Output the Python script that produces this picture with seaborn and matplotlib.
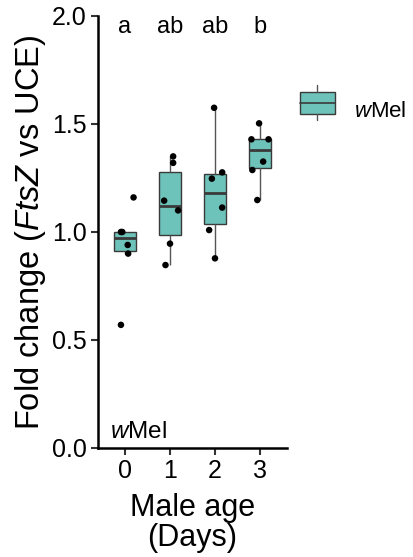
import matplotlib
matplotlib.use("Agg")
import matplotlib.pyplot as plt
import matplotlib.patches as mpatches
import matplotlib.lines as mlines
from matplotlib.legend_handler import HandlerBase
import pandas as pd
import seaborn as sns

# data (fold change per male, per age in days)
ages = [0, 1, 2, 3]
day0 = [1.16, 1.00, 1.00, 0.94, 0.90, 0.57]
day1 = [1.35, 1.32, 1.145, 1.10, 0.946, 0.847]
day2 = [1.575, 1.276, 1.247, 1.113, 1.009, 0.878]
day3 = [1.503, 1.429, 1.429, 1.326, 1.287, 1.148]
# horizontal jitter of each dot, as seen in the picture
jit0 = [0.19, -0.09, -0.06, 0.06, 0.07, -0.09]
jit1 = [0.07, 0.07, -0.13, 0.18, 0.0, -0.10]
jit2 = [-0.02, 0.16, -0.07, 0.16, -0.13, 0.0]
jit3 = [-0.02, -0.19, 0.19, 0.07, -0.17, -0.06]
letters = ["a", "ab", "ab", "b"]

teal = "#6DC2B9"
edge = "#3a3a3a"

rows = []
for age, vals, jits in zip(ages, [day0, day1, day2, day3], [jit0, jit1, jit2, jit3]):
    for v, j in zip(vals, jits):
        rows.append({"age": age, "fold": v, "xj": age + j})
df = pd.DataFrame(rows)

sns.set_style("ticks")
plt.rcParams["font.family"] = ["Liberation Sans", "DejaVu Sans"]
plt.rcParams["mathtext.fontset"] = "custom"
plt.rcParams["mathtext.rm"] = "Liberation Sans"
plt.rcParams["mathtext.it"] = "Liberation Sans:italic"
plt.rcParams["text.color"] = "black"
plt.rcParams["axes.labelcolor"] = "black"

fig = plt.figure(figsize=(4.13, 5.57), dpi=100)
ax = fig.add_axes([0.2373, 0.1957, 0.4576, 0.7756])

sns.boxplot(data=df, x="age", y="fold", order=ages, color=teal, width=0.5,
            showfliers=False, saturation=1, linewidth=1, linecolor=edge,
            whis=1.5, medianprops={"linewidth": 2, "color": edge},
            whiskerprops={"color": "#555555"}, capprops={"linewidth": 0},
            ax=ax)
sns.scatterplot(data=df, x="xj", y="fold", color="black", s=22,
                edgecolor="none", ax=ax, zorder=5)

for i, lab in enumerate(letters):
    ax.text(ages[i], 1.95, lab, ha="center", va="center", fontsize=17)

ax.text(0.063, 0.012, r"$\mathit{w}$Mel", transform=ax.transAxes,
        fontsize=17.5, ha="left", va="bottom")

ax.set_xlim(-0.6, 3.6)
ax.set_ylim(0, 2.0)
ax.set_yticks([0, 0.5, 1.0, 1.5, 2.0])
ax.set_yticklabels(["0.0", "0.5", "1.0", "1.5", "2.0"])
ax.set_xticks(ages)
ax.set_xticklabels([str(a) for a in ages])
ax.tick_params(labelsize=18, width=1.5, length=5, color="#333333",
               labelcolor="black", pad=3)
ax.set_xlabel("Male age\n(Days)", fontsize=22, linespacing=1.0, labelpad=7)
ax.set_ylabel(r"Fold change ($\mathit{FtsZ}$ vs UCE)", fontsize=23.5, labelpad=3)
for side in ["top", "right"]:
    ax.spines[side].set_visible(False)
for side in ["left", "bottom"]:
    ax.spines[side].set_linewidth(1.8)
    ax.spines[side].set_color("black")


class BoxKey(HandlerBase):
    def create_artists(self, legend, orig, xd, yd, w, h, fs, trans):
        r = mpatches.Rectangle((xd, yd), w, h, facecolor=teal,
                               edgecolor=edge, lw=1, transform=trans)
        m = mlines.Line2D([xd, xd + w], [yd + h / 2] * 2, color=edge, lw=1.2,
                          transform=trans)
        t = mlines.Line2D([xd + w / 2] * 2, [yd + h, yd + 1.3 * h],
                          color="#555555", lw=1, transform=trans)
        b = mlines.Line2D([xd + w / 2] * 2, [yd, yd - 0.3 * h],
                          color="#555555", lw=1, transform=trans)
        return [r, m, t, b]


key = mpatches.Patch(facecolor=teal)
fig.legend([key], [r"$\mathit{w}$Mel"], handler_map={mpatches.Patch: BoxKey()},
           loc="center left", bbox_to_anchor=(0.677, 0.802), frameon=False,
           fontsize=16, handlelength=1.58, handleheight=1.13, handletextpad=0.85,
           borderpad=0.4)

fig.savefig("out.png", dpi=100)
